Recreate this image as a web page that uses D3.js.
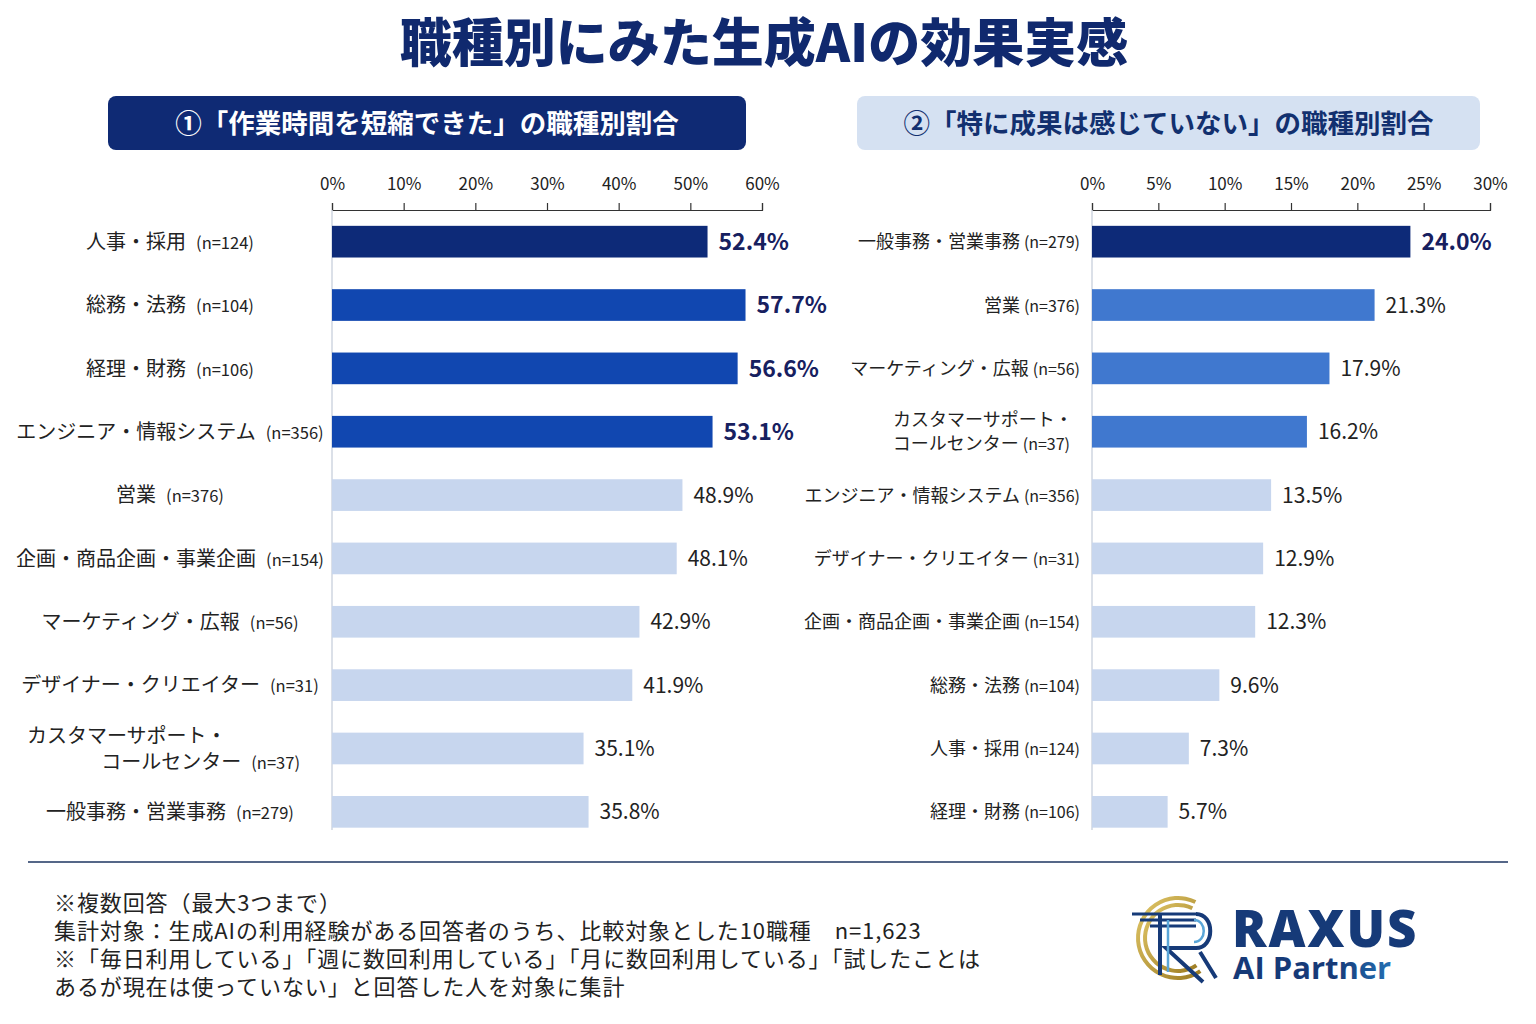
<!DOCTYPE html>
<html lang="ja">
<head>
<meta charset="utf-8">
<script src="https://cdn.jsdelivr.net/npm/d3@7"></script>
<style>
  html, body { margin: 0; padding: 0; background: #fff; }
  svg { display: block; font-family: "Noto Sans CJK JP", "Noto Sans", sans-serif; }
</style>
</head>
<body>
<div id="chart"></div>
<script>
// ① 作業時間を短縮できた
const leftCategories = ["人事・採用", "総務・法務", "経理・財務", "エンジニア・情報システム", "営業",
  "企画・商品企画・事業企画", "マーケティング・広報", "デザイナー・クリエイター",
  "カスタマーサポート・\nコールセンター", "一般事務・営業事務"];
const leftN = [124, 104, 106, 356, 376, 154, 56, 31, 37, 279];
const leftValues = [52.4, 57.7, 56.6, 53.1, 48.9, 48.1, 42.9, 41.9, 35.1, 35.8];
const leftTicks = [0, 10, 20, 30, 40, 50, 60];

// ② 特に成果は感じていない
const rightCategories = ["一般事務・営業事務", "営業", "マーケティング・広報", "カスタマーサポート・\nコールセンター",
  "エンジニア・情報システム", "デザイナー・クリエイター", "企画・商品企画・事業企画",
  "総務・法務", "人事・採用", "経理・財務"];
const rightN = [279, 376, 56, 37, 356, 31, 154, 104, 124, 106];
const rightValues = [24.0, 21.3, 17.9, 16.2, 13.5, 12.9, 12.3, 9.6, 7.3, 5.7];
const rightTicks = [0, 5, 10, 15, 20, 25, 30];

const footnotes = [
  "※複数回答（最大3つまで）",
  "集計対象：生成AIの利用経験がある回答者のうち、比較対象とした10職種　n=1,623",
  "※「毎日利用している」「週に数回利用している」「月に数回利用している」「試したことは",
  "あるが現在は使っていない」と回答した人を対象に集計"
];

const W = 1536, H = 1024;

const svg = d3.select("#chart").append("svg")
  .attr("width", W).attr("height", H)
  .attr("viewBox", `0 0 ${W} ${H}`);

// title
svg.append("text")
  .attr("x", 764).attr("y", 62)
  .attr("text-anchor", "middle")
  .style("font-size", "52px").style("font-weight", 900)
  .attr("fill", "#10296e")
  .text("職種別にみた生成AIの効果実感");

// panel headers
const headers = [
  { x: 108, w: 638, fill: "#0f2a74", color: "#fff", text: "①「作業時間を短縮できた」の職種別割合" },
  { x: 857, w: 623, fill: "#d5e1f2", color: "#12306f", text: "②「特に成果は感じていない」の職種別割合" }
];
headers.forEach(h => {
  svg.append("rect")
    .attr("x", h.x).attr("y", 96).attr("width", h.w).attr("height", 54)
    .attr("rx", 8).attr("fill", h.fill);
  svg.append("text")
    .attr("x", h.x + h.w / 2).attr("y", 124).attr("dy", "0.35em")
    .attr("text-anchor", "middle")
    .style("font-size", "26.5px").style("font-weight", 700)
    .attr("fill", h.color)
    .text(h.text);
});

const yRange = [210, 843.5];

const drawPanel = (opt) => {
  const x = d3.scaleLinear().domain(opt.domain).range([opt.x0, opt.x1]);
  const y = d3.scaleBand().domain(d3.range(opt.values.length)).range(yRange)
    .paddingInner(0.5).paddingOuter(0.25);

  const g = svg.append("g");

  // axis
  const axis = g.append("g")
    .attr("transform", "translate(0,210)")
    .call(d3.axisTop(x).tickValues(opt.ticks).tickFormat(d => d + "%")
      .tickSize(7).tickSizeOuter(7).tickPadding(13));
  axis.select(".domain").attr("stroke", "#333").attr("stroke-width", 1.2);
  axis.selectAll(".tick line").attr("stroke", "#333").attr("stroke-width", 1.2);
  axis.selectAll(".tick text")
    .attr("fill", "#222")
    .style("font-size", "17px")
    .style("font-family", "'Noto Sans CJK JP', sans-serif");

  // baseline
  g.append("line")
    .attr("x1", x(0)).attr("x2", x(0))
    .attr("y1", 210).attr("y2", 830)
    .attr("stroke", "#cfd6e0").attr("stroke-width", 1.5);

  const color = i => i === 0 ? opt.dark : (i <= 3 ? opt.mid : opt.light);
  const bold = i => i < opt.boldCount;

  const row = g.selectAll("g.row")
    .data(opt.values.map((v, i) => ({ v, i, cat: opt.categories[i], n: opt.n[i] })))
    .enter().append("g")
    .attr("class", "row")
    .attr("transform", d => `translate(0,${y(d.i)})`);

  row.append("rect")
    .attr("x", x(0))
    .attr("width", d => x(d.v) - x(0))
    .attr("height", y.bandwidth())
    .attr("fill", d => color(d.i));

  row.append("text")
    .attr("x", d => x(d.v) + 11)
    .attr("y", y.bandwidth() / 2)
    .attr("dy", "0.36em")
    .style("font-size", d => bold(d.i) ? "23px" : "21px")
    .style("font-weight", d => bold(d.i) ? 700 : 400)
    .attr("fill", d => bold(d.i) ? "#17205f" : "#222")
    .text(d => d.v.toFixed(1) + "%");

  // category labels
  row.each(function (d) {
    const lines = d.cat.split("\n");
    const mid = y.bandwidth() / 2;
    const lh = opt.labelSize + 6;
    lines.forEach((ln, k) => {
      const last = k === lines.length - 1;
      const t = d3.select(this).append("text")
        .attr("y", mid + (k - (lines.length - 1) / 2) * lh)
        .attr("dy", "0.36em")
        .attr("fill", "#222")
        .style("font-size", opt.labelSize + "px");
      if (lines.length > 1) {
        // two-line label: first line starts left, second ends right
        if (k === 0) t.attr("x", opt.multiStart).attr("text-anchor", "start");
        else t.attr("x", opt.multiEnd).attr("text-anchor", "end");
      } else {
        t.attr("x", opt.labelX).attr("text-anchor", opt.labelAnchor);
      }
      t.append("tspan").text(ln);
      if (last) {
        t.append("tspan")
          .attr("dx", opt.nGap)
          .style("font-size", opt.nSize + "px")
          .text(`(n=${d.n})`);
      }
    });
  });
};

drawPanel({
  categories: leftCategories, n: leftN, values: leftValues, ticks: leftTicks,
  domain: [0, 60], x0: 332, x1: 762,
  dark: "#0d2a78", mid: "#1147b0", light: "#c7d6ee",
  boldCount: 4, labelSize: 20, nSize: 16.5, labelX: 170, labelAnchor: "middle",
  multiStart: 27, multiEnd: 300, nGap: 10
});

drawPanel({
  categories: rightCategories, n: rightN, values: rightValues, ticks: rightTicks,
  domain: [0, 30], x0: 1092, x1: 1490,
  dark: "#0d2a78", mid: "#4078cf", light: "#c7d6ee",
  boldCount: 1, labelSize: 18, nSize: 16, labelX: 1080, labelAnchor: "end",
  multiStart: 893, multiEnd: 1070, nGap: 4
});

// separator
svg.append("line")
  .attr("x1", 28).attr("x2", 1508).attr("y1", 862).attr("y2", 862)
  .attr("stroke", "#1d3560").attr("stroke-width", 1.5);

// footnotes
svg.append("g").selectAll("text")
  .data(footnotes).enter().append("text")
  .attr("x", 54)
  .attr("y", (d, i) => 911 + i * 28)
  .style("font-size", "22px")
  .style("letter-spacing", "0.9px")
  .attr("fill", "#222")
  .text(d => d);

// logo
const logo = svg.append("g");
const defs = svg.append("defs");
const gold = defs.append("linearGradient").attr("id", "gold")
  .attr("x1", 0).attr("y1", 0).attr("x2", 1).attr("y2", 1);
gold.append("stop").attr("offset", "0%").attr("stop-color", "#e2c869");
gold.append("stop").attr("offset", "100%").attr("stop-color", "#9c7b22");
const partner = defs.append("linearGradient").attr("id", "partner")
  .attr("x1", 0).attr("y1", 0).attr("x2", 1).attr("y2", 0);
partner.append("stop").attr("offset", "55%").attr("stop-color", "#163a78");
partner.append("stop").attr("offset", "100%").attr("stop-color", "#2a8ad0");

const arc = d3.arc();
[[38, 42], [31, 35]].forEach(([r0, r1]) => {
  logo.append("path")
    .attr("transform", "translate(1178,938)")
    .attr("d", arc({ innerRadius: r0, outerRadius: r1, startAngle: 2.55, endAngle: 2 * Math.PI + 0.45 }))
    .attr("fill", "url(#gold)");
});
// R strokes
const navyLines = [
  [[1132, 914], [1196, 914]],
  [[1140, 920], [1196, 920]],
  [[1150, 926], [1196, 926]]
];
navyLines.forEach(p => logo.append("path")
  .attr("d", d3.line()(p)).attr("stroke", "#163a78").attr("stroke-width", 3).attr("fill", "none"));
logo.append("path")
  .attr("d", "M1160,914 L1160,975 M1196,914 C1215,914 1215,948 1196,948 L1166,948 L1203,982 M1200,952 L1216,978")
  .attr("stroke", "#163a78").attr("stroke-width", 4).attr("fill", "none");
logo.append("path")
  .attr("d", "M1168,920 L1168,972 M1194,920 C1207,920 1207,942 1194,942")
  .attr("stroke", "#5aa6d8").attr("stroke-width", 2.5).attr("fill", "none");

const logoText = logo.append("text")
  .style("font-family", "'Open Sans', 'Noto Sans', sans-serif")
  .style("font-weight", 800);
logoText.append("tspan")
  .attr("x", 1232).attr("y", 947)
  .style("font-size", "51px").style("letter-spacing", "2px")
  .attr("fill", "#163a78")
  .text("RAXUS");
logoText.append("tspan")
  .attr("x", 1233).attr("y", 979)
  .style("font-size", "31px").style("font-weight", 700)
  .attr("fill", "url(#partner)")
  .text("AI Partner");
</script>
</body>
</html>
